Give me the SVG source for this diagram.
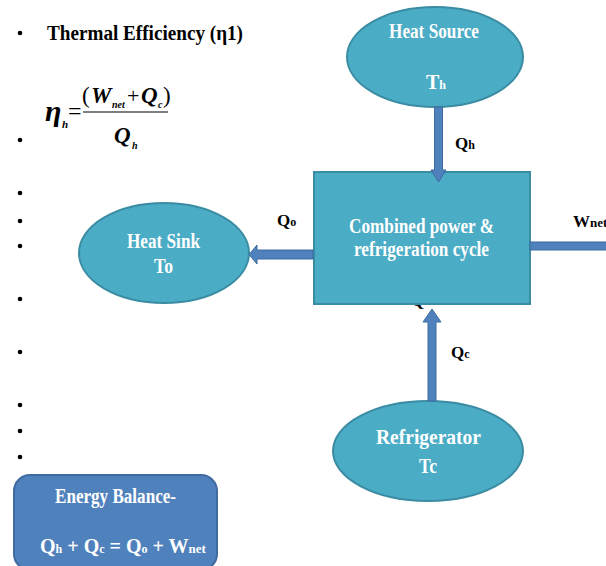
<svg xmlns="http://www.w3.org/2000/svg" width="606" height="566" viewBox="0 0 606 566">
<style>
.node{fill:#4bacc6;stroke:#3a8ca3;stroke-width:2}
.arrow{fill:#4f81bd;stroke:#3f6ba0;stroke-width:1}
.wt{font-family:"Liberation Serif","Times New Roman",serif;font-weight:bold;fill:#fff;font-size:20px}
.lbl{font-family:"Liberation Serif","Times New Roman",serif;font-weight:bold;fill:#000;font-size:17px}
.bk{font-family:"Liberation Serif","Times New Roman",serif;fill:#000;font-weight:bold}
.mi{font-family:"Liberation Serif","Times New Roman",serif;font-style:italic;font-weight:bold;fill:#000}
.mn{font-family:"Liberation Serif","Times New Roman",serif;font-weight:normal;fill:#000}
</style>
<rect width="606" height="566" fill="#fff"/>

<g id="bullets">
<text class="bk" x="47" y="40" font-size="20" textLength="196" lengthAdjust="spacingAndGlyphs">Thermal Efficiency (η1)</text>
<circle cx="20" cy="33" r="2.3"/>
<circle cx="20" cy="140" r="2.3"/>
<circle cx="20" cy="193" r="2.3"/>
<circle cx="20" cy="221" r="2.3"/>
<circle cx="20" cy="246" r="2.3"/>
<circle cx="20" cy="299" r="2.3"/>
<circle cx="20" cy="352" r="2.3"/>
<circle cx="20" cy="405" r="2.3"/>
<circle cx="20" cy="431" r="2.3"/>
<circle cx="20" cy="457" r="2.3"/>
</g>

<g id="formula">
<text class="mi" x="45" y="121" font-size="30">η</text>
<text class="mi" x="62" y="128" font-size="11">h</text>
<text class="mn" x="68" y="119" font-size="24">=</text>
<line x1="83" y1="112" x2="168" y2="112" stroke="#000" stroke-width="1.2"/>
<text class="mn" x="82" y="103" font-size="23">(</text>
<text class="mi" x="91" y="103" font-size="23">W</text>
<text class="mi" x="112" y="108" font-size="10">net</text>
<text class="mn" x="127" y="103" font-size="22">+</text>
<text class="mi" x="141" y="103" font-size="23">Q</text>
<text class="mi" x="158" y="108" font-size="10">c</text>
<text class="mn" x="163" y="103" font-size="23">)</text>
<text class="mi" x="114" y="143" font-size="23">Q</text>
<text class="mi" x="132" y="149" font-size="10">h</text>
</g>

<text class="lbl" x="411" y="306">Q</text>

<g id="heat-source">
<ellipse class="node" cx="435" cy="57" rx="88" ry="50"/>
<text class="wt" x="389" y="38" textLength="90" lengthAdjust="spacingAndGlyphs">Heat Source</text>
<text class="wt" x="426" y="89">T<tspan font-size="12">h</tspan></text>
</g>

<g id="cycle">
<rect class="node" x="314" y="172" width="216" height="132"/>
<text class="wt" x="349" y="233" textLength="145" lengthAdjust="spacingAndGlyphs">Combined power &amp;</text>
<text class="wt" x="354" y="256" textLength="135" lengthAdjust="spacingAndGlyphs">refrigeration cycle</text>
</g>

<g id="heat-sink">
<ellipse class="node" cx="164" cy="253" rx="85" ry="50"/>
<text class="wt" x="127" y="248" textLength="73" lengthAdjust="spacingAndGlyphs">Heat Sink</text>
<text class="wt" x="154" y="273" textLength="19" lengthAdjust="spacingAndGlyphs">To</text>
</g>

<g id="refrigerator">
<ellipse class="node" cx="428" cy="451" rx="95" ry="50"/>
<text class="wt" x="376" y="444" font-size="23" textLength="105" lengthAdjust="spacingAndGlyphs">Refrigerator</text>
<text class="wt" x="419" y="473" font-size="23" textLength="18" lengthAdjust="spacingAndGlyphs">Tc</text>
</g>

<g id="connectors">
<g id="qh">
<polygon class="arrow" points="434.5,107 442.5,107 442.5,170 446,170 438.5,182 431,170 434.5,170"/>
<text class="lbl" x="455" y="149">Q<tspan font-size="12">h</tspan></text>
</g>
<g id="qo">
<polygon class="arrow" points="313,250 313,259 257,259 257,264 249,254.5 257,245 257,250"/>
<text class="lbl" x="277" y="226">Q<tspan font-size="12">o</tspan></text>
</g>
<g id="qc">
<polygon class="arrow" points="428,401 436,401 436,322 441,322 432,309 423,322 428,322"/>
<text class="lbl" x="451" y="358">Q<tspan font-size="12">c</tspan></text>
</g>
<g id="wnet">
<rect class="arrow" x="530" y="242" width="80" height="8"/>
<text class="lbl" x="573" y="227">W<tspan font-size="13">net</tspan></text>
</g>
</g>

<g id="energy-balance">
<rect x="14" y="475" width="203" height="95" rx="16" fill="#4f81bd" stroke="#3f6ba0" stroke-width="2"/>
<text class="wt" x="55" y="503" font-size="19" textLength="121" lengthAdjust="spacingAndGlyphs">Energy Balance-</text>
<text class="wt" x="40" y="553" font-size="17">Q<tspan font-size="12">h</tspan> + Q<tspan font-size="12">c</tspan> = Q<tspan font-size="12">o</tspan> + W<tspan font-size="13">net</tspan></text>
</g>
</svg>
